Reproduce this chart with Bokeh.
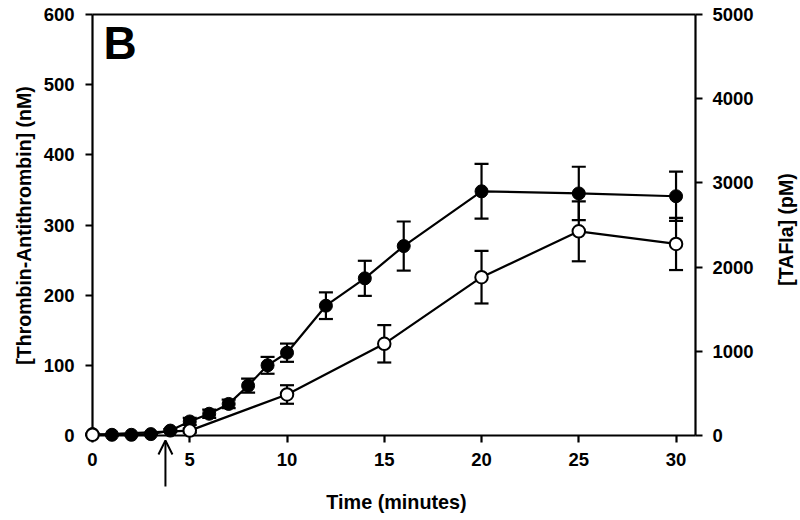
import math
from bokeh.plotting import figure
from bokeh.models import (Range1d, LinearAxis, FixedTicker, Label, Arrow,
                          OpenHead, ColumnDataSource)
from bokeh.embed import file_html
from bokeh.resources import INLINE

# ---- data ----
t_tat = [0, 1, 2, 3, 4, 5, 6, 7, 8, 9, 10, 12, 14, 16, 20, 25, 30]
tat = [2, 1, 1, 2, 7, 20, 31, 45, 71, 100, 118, 185, 224, 270, 348, 345, 341]
tat_err = [1, 1, 1, 1, 2, 5, 6, 6, 10, 12, 13, 19, 25, 35, 39, 38, 35]

t_tafi = [0, 5, 10, 15, 20, 25, 30]
tafi = [8, 58, 487, 1089, 1880, 2425, 2275]          # pM
tafi_err = [8, 25, 110, 222, 312, 356, 310]

x_ticks = [0, 5, 10, 15, 20, 25, 30]
y_ticks = [0, 100, 200, 300, 400, 500, 600]
y2_ticks = [0, 1000, 2000, 3000, 4000, 5000]
arrow_time = 3.75

# ---- layout (canvas pixel coordinates) ----
W, H = 800, 520
X0_PX, X31_PX = 92, 695      # x=0 and x=31
Y0_PX, Y600_PX = 435, 14     # y=0 and y=600
xs = (X31_PX - X0_PX) / 31.0
ys = (Y0_PX - Y600_PX) / 600.0
k = 5000 / 600.0
x_start, x_end = -X0_PX / xs, 31 + (W - X31_PX) / xs
y_start, y_end = -(H - Y0_PX) / ys, 600 + Y600_PX / ys

FONT = "Liberation Sans"
LW = 2.2

p = figure(width=W, height=H, output_backend="svg", toolbar_location=None,
           x_range=Range1d(x_start, x_end), y_range=Range1d(y_start, y_end),
           x_axis_location=None, y_axis_location=None, title_location=None,
           min_border=0)
p.outline_line_color = None
p.xgrid.visible = False
p.ygrid.visible = False
p.background_fill_color = "white"
p.border_fill_color = "white"
p.extra_y_ranges = {"tafi": Range1d(y_start * k, y_end * k)}


def style(ax):
    ax.axis_line_width = LW
    ax.axis_line_color = "black"
    ax.major_tick_line_width = LW
    ax.major_tick_line_color = "black"
    ax.major_tick_in = 0
    ax.major_tick_out = 7
    ax.minor_tick_line_color = None
    ax.major_label_text_font = FONT
    ax.major_label_text_font_style = "bold"
    ax.major_label_text_font_size = "18.5px"
    ax.major_label_text_color = "black"
    ax.major_label_standoff = 10


xa = LinearAxis(ticker=FixedTicker(ticks=x_ticks), fixed_location=0, bounds=(0, 31))
style(xa)
p.add_layout(xa, "below")
ya = LinearAxis(ticker=FixedTicker(ticks=y_ticks), fixed_location=0, bounds=(0, 600))
style(ya)
ya.major_label_standoff = 11
p.add_layout(ya, "left")
ra = LinearAxis(y_range_name="tafi", ticker=FixedTicker(ticks=y2_ticks),
                fixed_location=31, bounds=(0, 5000))
style(ra)
p.add_layout(ra, "right")
ta = LinearAxis(ticker=FixedTicker(ticks=[]), fixed_location=600, bounds=(0, 31))
style(ta)
ta.major_tick_line_color = None
ta.major_label_text_color = None
p.add_layout(ta, "above")

src1 = ColumnDataSource(dict(t=t_tat, y=tat,
                             lo=[a - b for a, b in zip(tat, tat_err)],
                             hi=[a + b for a, b in zip(tat, tat_err)]))
src2 = ColumnDataSource(dict(t=t_tafi, y=tafi,
                             lo=[a - b for a, b in zip(tafi, tafi_err)],
                             hi=[a + b for a, b in zip(tafi, tafi_err)]))

# error bars
p.segment(x0="t", y0="lo", x1="t", y1="hi", source=src1, line_color="black", line_width=LW)
p.scatter(x="t", y="lo", source=src1, marker="dash", size=14, line_color="black", line_width=LW)
p.scatter(x="t", y="hi", source=src1, marker="dash", size=14, line_color="black", line_width=LW)
p.segment(x0="t", y0="lo", x1="t", y1="hi", source=src2, line_color="black", line_width=LW,
          y_range_name="tafi")
p.scatter(x="t", y="lo", source=src2, marker="dash", size=14, line_color="black", line_width=LW,
          y_range_name="tafi")
p.scatter(x="t", y="hi", source=src2, marker="dash", size=14, line_color="black", line_width=LW,
          y_range_name="tafi")

# lines
p.line(x="t", y="y", source=src1, line_color="black", line_width=LW)
p.line(x="t", y="y", source=src2, line_color="black", line_width=LW, y_range_name="tafi")

# markers (drawn above the axes)
p.scatter(x="t", y="y", source=src1, marker="circle", size=13,
          fill_color="black", line_color="black", line_width=1, level="overlay")
p.scatter(x="t", y="y", source=src2, marker="circle", size=12.5,
          fill_color="white", line_color="black", line_width=2, y_range_name="tafi",
          level="overlay")


def px_to_x(px):
    return (px - X0_PX) / xs


def px_to_y(py):
    return (Y0_PX - py) / ys


p.add_layout(Label(x=px_to_x(103), y=px_to_y(42), text="B", text_font=FONT,
                   text_font_style="bold", text_font_size="46px", text_color="black",
                   text_baseline="alphabetic", text_align="left"))

p.add_layout(Label(x=px_to_x(396), y=px_to_y(501.6), text="Time (minutes)", text_font=FONT,
                   text_font_style="bold", text_font_size="19.8px", text_color="black",
                   text_baseline="alphabetic", text_align="center"))
p.add_layout(Label(x=px_to_x(23), y=px_to_y(225), text="[Thrombin-Antithrombin] (nM)",
                   angle=math.pi / 2, text_font=FONT, text_font_style="bold",
                   text_font_size="19.5px", text_color="black",
                   text_baseline="alphabetic", text_align="center"))
p.add_layout(Label(x=px_to_x(785.6), y=px_to_y(229), text="[TAFIa] (pM)",
                   angle=math.pi / 2, text_font=FONT, text_font_style="bold",
                   text_font_size="19.5px", text_color="black",
                   text_baseline="alphabetic", text_align="center"))

p.add_layout(Arrow(end=OpenHead(size=14, line_width=2, line_color="black"),
                   x_start=arrow_time, y_start=px_to_y(486),
                   x_end=arrow_time, y_end=px_to_y(440),
                   line_color="black", line_width=2))

open("out.html", "w").write(file_html(p, INLINE))
